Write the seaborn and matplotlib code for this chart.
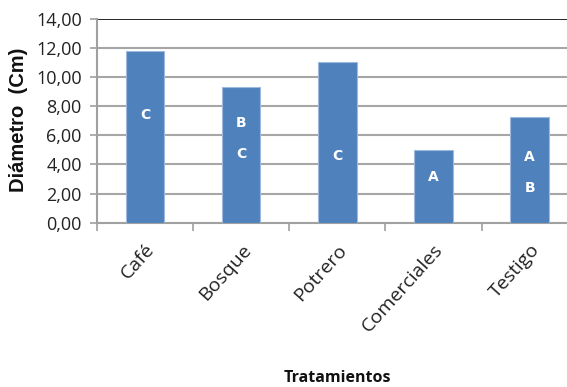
import matplotlib
matplotlib.use("Agg")
import matplotlib.pyplot as plt
import seaborn as sns
import pandas as pd
from matplotlib.ticker import FixedLocator, FuncFormatter

# Mean stem diameter per treatment, with significance letters
tratamientos = ["Café", "Bosque", "Potrero", "Comerciales", "Testigo"]
diametro = [11.83, 9.31, 11.07, 5.02, 7.28]
letras = [["C"], ["B", "C"], ["C"], ["A"], ["A", "B"]]
letras_y = [[7.4], [6.85, 4.72], [4.55], [3.15], [4.5, 2.35]]
y_ticks = [0, 2, 4, 6, 8, 10, 12, 14]

df = pd.DataFrame({"Tratamiento": tratamientos, "Diametro": diametro})

sns.set_theme(style="white")
plt.rcParams["font.family"] = ["Open Sans", "DejaVu Sans"]

fig = plt.figure(figsize=(5.67, 3.87), dpi=100)
ax = fig.add_axes([0.171, 0.4246, 0.848, 0.5264])

sns.barplot(data=df, x="Tratamiento", y="Diametro", color="#4F81BD",
            width=0.4, saturation=1, edgecolor="#9DB9DE", linewidth=0.8,
            ax=ax, zorder=3)

ax.set_ylim(0, 14)
ax.set_xlim(-0.5, len(tratamientos) - 0.5)

# horizontal gridlines, top one darker
for v in y_ticks[1:-1]:
    ax.axhline(v, color="#A6A6A6", lw=1.5, zorder=1)
ax.axhline(14, color="#000000", lw=1.2, zorder=1)

for s in ["top", "right"]:
    ax.spines[s].set_visible(False)
for s in ["left", "bottom"]:
    ax.spines[s].set_color("#A0A0A0")
    ax.spines[s].set_linewidth(1.5)

ax.yaxis.set_major_locator(FixedLocator(y_ticks))
ax.yaxis.set_major_formatter(FuncFormatter(lambda v, p: f"{v:.2f}".replace(".", ",")))
ax.tick_params(axis="y", which="major", left=True, length=5, width=1.2,
               color="#A0A0A0", labelsize=13, labelcolor="#222222", pad=6)

# category labels at centres, tick marks between categories
ax.set_xticks(range(len(tratamientos)))
ax.set_xticklabels(tratamientos, rotation=48, ha="right", rotation_mode="anchor",
                   fontsize=14, color="#222222")
ax.tick_params(axis="x", which="major", bottom=False, length=0, pad=13)
ax.set_xticks([i - 0.5 for i in range(len(tratamientos) + 1)], minor=True)
ax.tick_params(axis="x", which="minor", bottom=True, length=6, width=1.2,
               color="#A0A0A0")

ax.set_xlabel("")
ax.set_ylabel("")

for i, (ls, ys) in enumerate(zip(letras, letras_y)):
    for l, yv in zip(ls, ys):
        ax.text(i, yv, l, ha="center", va="center", color="white",
                fontsize=10, fontweight="bold", family="DejaVu Sans", zorder=4)

fig.text(0.033, 0.69, "Diámetro  (Cm)", rotation=90, ha="center", va="center",
         fontsize=14.5, fontweight="bold", family="Liberation Sans", color="#111111")
fig.text(0.595, 0.022, "Tratamientos", ha="center", va="center",
         fontsize=11.5, fontweight="bold", color="#111111")

fig.savefig("out.png", dpi=100)
